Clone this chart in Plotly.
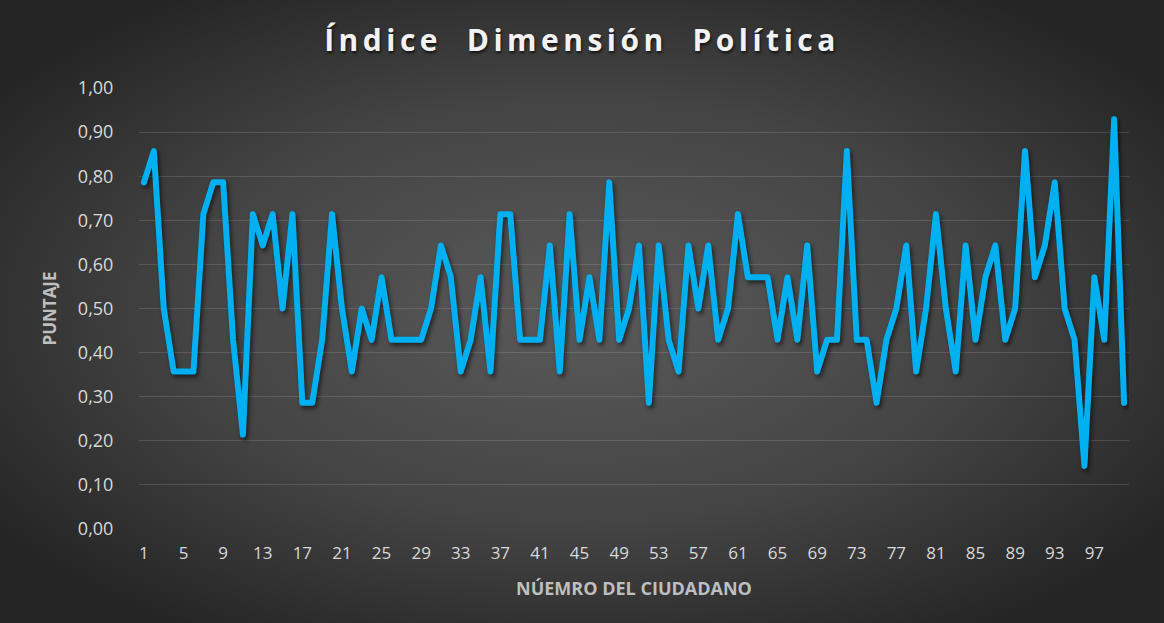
import base64
import plotly.graph_objects as go

# ---- data ----
ciudadanos = list(range(1, 101))
puntaje = [
    0.786, 0.857, 0.500, 0.357, 0.357, 0.357, 0.714, 0.786, 0.786, 0.429,
    0.214, 0.714, 0.643, 0.714, 0.500, 0.714, 0.286, 0.286, 0.429, 0.714,
    0.500, 0.357, 0.500, 0.429, 0.571, 0.429, 0.429, 0.429, 0.429, 0.500,
    0.643, 0.571, 0.357, 0.429, 0.571, 0.357, 0.714, 0.714, 0.429, 0.429,
    0.429, 0.643, 0.357, 0.714, 0.429, 0.571, 0.429, 0.786, 0.429, 0.500,
    0.643, 0.286, 0.643, 0.429, 0.357, 0.643, 0.500, 0.643, 0.429, 0.500,
    0.714, 0.571, 0.571, 0.571, 0.429, 0.571, 0.429, 0.643, 0.357, 0.429,
    0.429, 0.857, 0.429, 0.429, 0.286, 0.429, 0.500, 0.643, 0.357, 0.500,
    0.714, 0.500, 0.357, 0.643, 0.429, 0.571, 0.643, 0.429, 0.500, 0.857,
    0.571, 0.643, 0.786, 0.500, 0.429, 0.143, 0.571, 0.429, 0.929, 0.286,
]
x_ticks = list(range(1, 101, 4))
y_ticks = [0.0, 0.1, 0.2, 0.3, 0.4, 0.5, 0.6, 0.7, 0.8, 0.9, 1.0]

W, H = 1164, 623
L, R, T, B = 139, 35, 88, 94
PW, PH = W - L - R, H - T - B

svg = (
    "<svg xmlns='http://www.w3.org/2000/svg' width='1164' height='623'>"
    "<defs><radialGradient id='g' cx='50%' cy='50%' r='62%'>"
    "<stop offset='0' stop-color='#5a5a5a'/>"
    "<stop offset='0.55' stop-color='#444444'/>"
    "<stop offset='1' stop-color='#242424'/>"
    "</radialGradient></defs>"
    "<rect width='1164' height='623' fill='url(#g)'/></svg>"
)
bg_src = "data:image/svg+xml;base64," + base64.b64encode(svg.encode()).decode()

fig = go.Figure()
fig.add_trace(go.Scatter(
    x=ciudadanos, y=puntaje, mode="lines",
    line=dict(color="#00B0F0", width=6),
    showlegend=False,
))

fig.update_layout(
    width=W, height=H,
    margin=dict(l=L, r=R, t=T, b=B, pad=0),
    paper_bgcolor="#3a3a3a",
    plot_bgcolor="rgba(0,0,0,0)",
    separators=", ",
    images=[dict(
        source=bg_src, xref="paper", yref="paper",
        x=-L / PW, y=1 + T / PH, sizex=W / PW, sizey=H / PH,
        xanchor="left", yanchor="top", sizing="stretch", layer="below",
    )],
    title=dict(
        text="Índice  Dimensión  Política",
        x=0.5, xref="container", xanchor="center",
        y=1 - 40 / H, yref="container", yanchor="middle",
        font=dict(family="Open Sans", size=30, color="#f2f2f2", weight="bold",
                  shadow="1px 2px 3px rgba(0,0,0,0.7)"),
    ),
    xaxis=dict(
        range=[0.5, 100.5], tickmode="array", tickvals=x_ticks,
        ticktext=[str(v) for v in x_ticks],
        showgrid=False, zeroline=False, showline=False,
        ticks="outside", ticklen=9, tickcolor="rgba(0,0,0,0)",
        tickfont=dict(family="Open Sans", size=17, color="#d9d9d9"),
        title=dict(text="NÚEMRO DEL CIUDADANO", standoff=18,
                   font=dict(family="Open Sans", size=18, color="#bfbfbf", weight="bold")),
    ),
    yaxis=dict(
        range=[0, 1], tickmode="array", tickvals=y_ticks, tickformat=".2f",
        showgrid=True, gridcolor="rgba(255,255,255,0.13)", gridwidth=1.3,
        zeroline=False, showline=False,
        ticks="outside", ticklen=21, tickcolor="rgba(0,0,0,0)",
        tickfont=dict(family="Open Sans", size=18, color="#d9d9d9"),
        title=dict(text="PUNTAJE", standoff=16,
                   font=dict(family="Open Sans", size=17, color="#bfbfbf", weight="bold")),
    ),
)

post = """
document.body.style.margin='0';
var gd=document.getElementById('{plot_id}');
gd.querySelectorAll('.scatterlayer path.js-line').forEach(function(p){
  p.style.strokeLinejoin='round';
  p.style.strokeLinecap='round';
  p.style.filter='drop-shadow(2px 3px 2px rgba(0,0,0,0.55))';
});
var t=gd.querySelector('.gtitle');
if(t){t.style.letterSpacing='4.5px';}
"""

fig.write_html("out.html", post_script=post, config={"displayModeBar": False})
